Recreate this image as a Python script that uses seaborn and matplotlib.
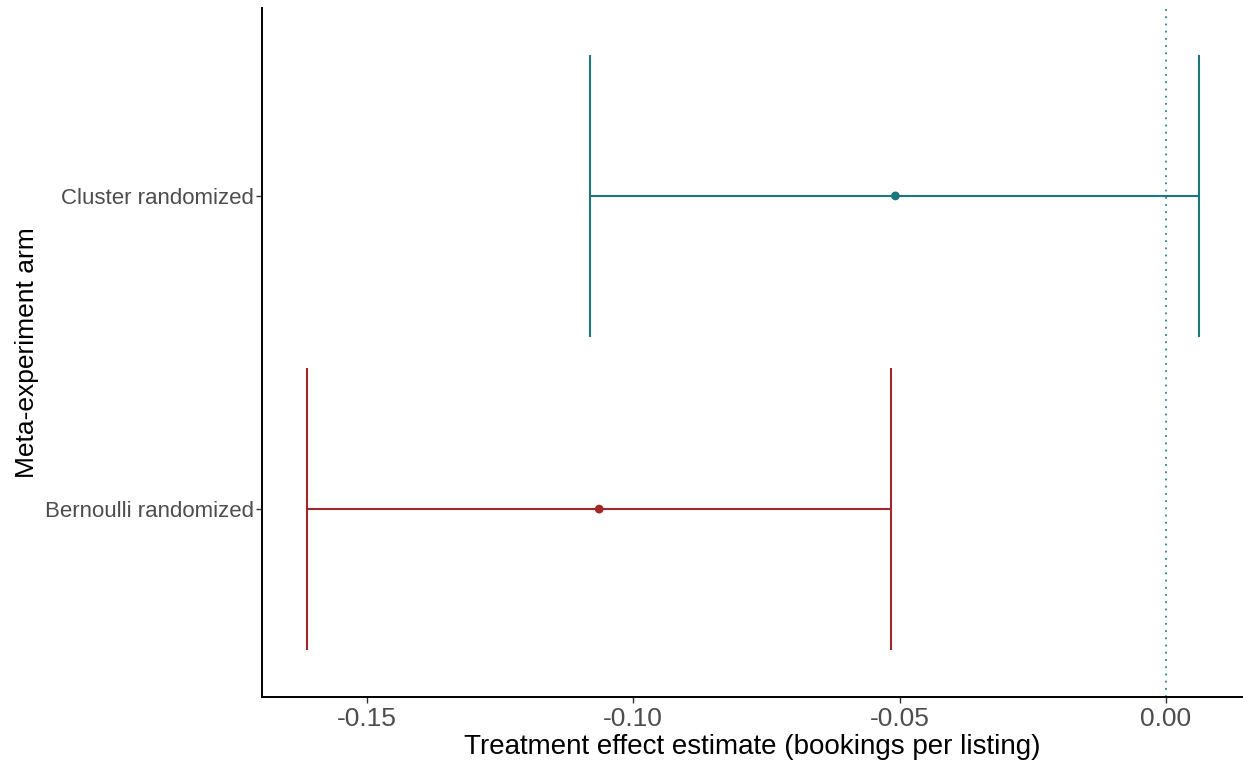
import numpy as np
import pandas as pd
import matplotlib
matplotlib.use("Agg")
import matplotlib.pyplot as plt
import seaborn as sns

# -------------------- Data --------------------
arms = ["Bernoulli randomized", "Cluster randomized"]
estimates = [-0.1064, -0.0508]
ci_low = [-0.1612, -0.1081]
ci_high = [-0.0516, 0.0062]
arm_colors = ["#a52626", "#1a777d"]

df = pd.DataFrame({"arm": arms, "est": estimates, "lo": ci_low, "hi": ci_high})
df["ypos"] = np.arange(len(arms))

# -------------------- Plot --------------------
sns.set_theme(style="white")
plt.rcParams["font.family"] = ["Liberation Sans", "DejaVu Sans"]
plt.rcParams["axes.unicode_minus"] = False

fig = plt.figure(figsize=(12.43, 7.66), dpi=100)
ax = fig.add_axes([262 / 1243, 69 / 766, 981 / 1243, 689 / 766])

half = 0.45
for _, r in df.iterrows():
    c = arm_colors[int(r.ypos)]
    ax.hlines(r.ypos, r.lo, r.hi, color=c, lw=1.5)
    ax.vlines([r.lo, r.hi], r.ypos - half, r.ypos + half, color=c, lw=1.5)

sns.scatterplot(data=df, x="est", y="ypos", hue="arm", palette=arm_colors,
                s=40, edgecolor="none", legend=False, ax=ax, zorder=3)

ax.axvline(0, color="#1a8a92", ls=(0, (1, 3)), lw=1.3, zorder=1)

ax.set_xlim(-0.1697, 0.01445)
ax.set_ylim(-0.6, 1.6)
ax.set_yticks(df["ypos"])
ax.set_yticklabels(arms)
ax.set_xticks([-0.15, -0.10, -0.05, 0.00])
ax.set_xticklabels(["-0.15", "-0.10", "-0.05", "0.00"])

ax.tick_params(axis="x", bottom=True, labelsize=19, colors="#333333", length=4, width=1, pad=3)
ax.tick_params(axis="y", left=True, labelsize=16, colors="#333333", length=4, width=1, pad=2)
for t in ax.get_xticklabels() + ax.get_yticklabels():
    t.set_color("#4d4d4d")

ax.set_xlabel("Treatment effect estimate (bookings per listing)", fontsize=20, color="black", labelpad=2)
ax.set_ylabel("Meta-experiment arm", fontsize=19, color="black", labelpad=4)

sns.despine(ax=ax)
for side in ["left", "bottom"]:
    ax.spines[side].set_color("black")
    ax.spines[side].set_linewidth(1.4)

fig.savefig("out.png", dpi=100)
